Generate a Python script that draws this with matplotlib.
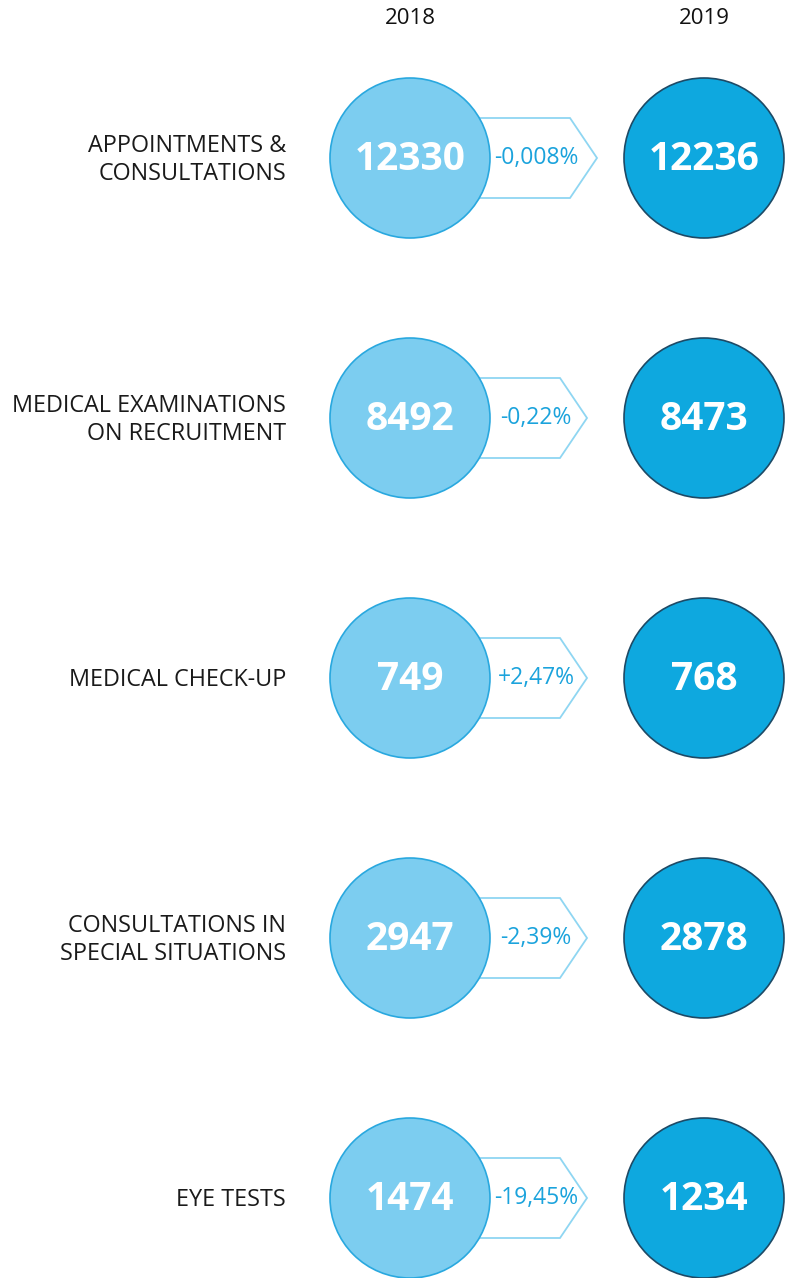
import matplotlib.pyplot as plt
from matplotlib.patches import Circle, Polygon

years = ['2018', '2019']
categories = ['APPOINTMENTS &\nCONSULTATIONS',
              'MEDICAL EXAMINATIONS\nON RECRUITMENT',
              'MEDICAL CHECK-UP',
              'CONSULTATIONS IN\nSPECIAL SITUATIONS',
              'EYE TESTS']
values_2018 = [12330, 8492, 749, 2947, 1474]
values_2019 = [12236, 8473, 768, 2878, 1234]
changes = ['-0,008%', '-0,22%', '+2,47%', '-2,39%', '-19,45%']

FONT = ['Open Sans', 'DejaVu Sans']
LIGHT = '#7ccdf0'
LIGHT_EDGE = '#29a8df'
DARK = '#0ea8df'
DARK_EDGE = '#1d4a66'
ARROW_EDGE = '#8fd6f2'
PCT = '#1ba3dc'

W, H = 787, 1278
fig = plt.figure(figsize=(W / 100, H / 100), dpi=100)
ax = fig.add_axes([0, 0, 1, 1])
ax.set_xlim(0, W)
ax.set_ylim(H, 0)
ax.axis('off')

x18, x19, r = 410, 704, 80
y0, dy = 158, 260

ax.text(x18, 18, years[0], ha='center', va='center', fontsize=16, family=FONT, color='#111111')
ax.text(x19, 18, years[1], ha='center', va='center', fontsize=16, family=FONT, color='#111111')

for i, cat in enumerate(categories):
    y = y0 + i * dy
    # first arrow is a bit longer (longer text)
    flat = 570 if i == 0 else 560
    tip = flat + 27
    arrow = Polygon([(450, y - 40), (flat, y - 40), (tip, y), (flat, y + 40), (450, y + 40)],
                    closed=True, facecolor='white', edgecolor=ARROW_EDGE, lw=1.3, zorder=1)
    ax.add_patch(arrow)
    ax.add_patch(Circle((x18, y), r, facecolor=LIGHT, edgecolor=LIGHT_EDGE, lw=1.2, zorder=2))
    ax.add_patch(Circle((x19, y), r, facecolor=DARK, edgecolor=DARK_EDGE, lw=1.2, zorder=2))

    ax.text(x18, y + 1, str(values_2018[i]), ha='center', va='center', fontsize=28,
            fontweight='bold', family=FONT, color='white', zorder=3)
    ax.text(x19, y + 1, str(values_2019[i]), ha='center', va='center', fontsize=28,
            fontweight='bold', family=FONT, color='white', zorder=3)
    ax.text(536, y, changes[i], ha='center', va='center', fontsize=16.5,
            family=FONT, color=PCT, zorder=3)
    ax.text(286, y + 2, cat, ha='right', va='center', fontsize=16.8, family=FONT,
            color='#1a1a1a', linespacing=1.2)

fig.savefig('out.png', dpi=100)
